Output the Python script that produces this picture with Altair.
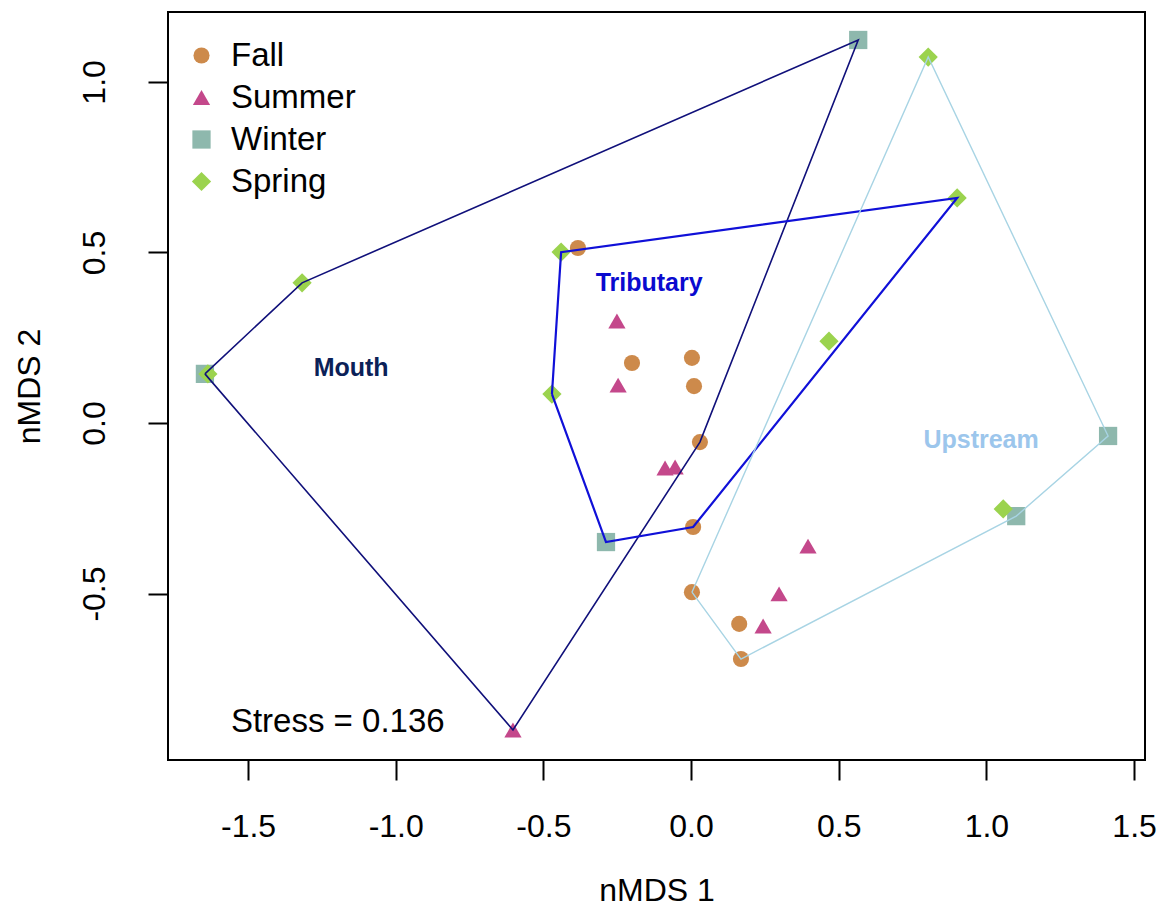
import altair as alt
import pandas as pd

# ---- data ----
seasons = ["Fall", "Summer", "Winter", "Spring"]
season_colors = ["#CD8A4B", "#C4488B", "#8EB8AD", "#9BD34E"]
season_shapes = ["circle", "triangle-up", "square", "diamond"]
season_sizes = [260, 370, 215, 340]

fall_x = [-0.383, -0.200, 0.003, 0.010, 0.030, 0.007, 0.003, 0.163, 0.169]
fall_y = [0.513, 0.176, 0.191, 0.108, -0.056, -0.305, -0.496, -0.589, -0.692]
fall_site = ["Mouth", "Tributary", "Tributary", "Tributary", "Mouth",
             "Tributary", "Upstream", "Upstream", "Upstream"]

summer_x = [-0.251, -0.247, -0.088, -0.054, 0.396, 0.298, 0.244, -0.603]
summer_y = [0.299, 0.111, -0.132, -0.129, -0.361, -0.501, -0.595, -0.900]
summer_site = ["Tributary", "Tributary", "Tributary", "Tributary",
               "Upstream", "Upstream", "Upstream", "Mouth"]

winter_x = [0.566, -1.646, -0.288, 1.412, 1.101]
winter_y = [1.123, 0.144, -0.349, -0.038, -0.273]
winter_site = ["Mouth", "Mouth", "Tributary", "Upstream", "Upstream"]

spring_x = [0.803, 0.901, -1.317, -1.636, -0.440, -0.471, 0.467, 1.057]
spring_y = [1.073, 0.660, 0.411, 0.144, 0.501, 0.085, 0.240, -0.252]
spring_site = ["Upstream", "Tributary", "Mouth", "Mouth", "Tributary",
               "Tributary", "Upstream", "Upstream"]

sites = ["Mouth", "Tributary", "Upstream"]
hull_colors = ["#10107A", "#1010D8", "#A8D4E4"]
hull_widths = [1.6, 2.2, 1.4]
label_colors = ["#0B2158", "#0A0ACF", "#9CC6EC"]
label_x = [-1.151, -0.142, 0.982]
label_y = [0.161, 0.411, -0.050]

stress_text = ["Stress = 0.136"]
stress_x = [-1.558]
stress_y = [-0.877]

x_ticks = [-1.5, -1.0, -0.5, 0.0, 0.5, 1.0, 1.5]
y_ticks = [-0.5, 0.0, 0.5, 1.0]
x_domain = [-1.771, 1.537]
y_domain = [-0.988, 1.205]

# ---- tables ----
rows = []
for s, xs_, ys_, ss in [("Fall", fall_x, fall_y, fall_site),
                        ("Summer", summer_x, summer_y, summer_site),
                        ("Winter", winter_x, winter_y, winter_site),
                        ("Spring", spring_x, spring_y, spring_site)]:
    for x, y, site in zip(xs_, ys_, ss):
        rows.append({"season": s, "x": x, "y": y, "site": site})
pts = pd.DataFrame(rows)


def convex_hull(p):
    p = sorted(set(p))
    if len(p) <= 2:
        return p

    def cross(o, a, b):
        return (a[0] - o[0]) * (b[1] - o[1]) - (a[1] - o[1]) * (b[0] - o[0])
    lower, upper = [], []
    for q in p:
        while len(lower) >= 2 and cross(lower[-2], lower[-1], q) <= 0:
            lower.pop()
        lower.append(q)
    for q in reversed(p):
        while len(upper) >= 2 and cross(upper[-2], upper[-1], q) <= 0:
            upper.pop()
        upper.append(q)
    return lower[:-1] + upper[:-1]


hull_rows = []
for site in sites:
    sub = pts[pts.site == site]
    h = convex_hull(list(zip(sub.x, sub.y)))
    h = h + [h[0]]
    for i, (x, y) in enumerate(h):
        hull_rows.append({"site": site, "x": x, "y": y, "ord": i})
hulls = pd.DataFrame(hull_rows)

FONT = "Liberation Sans"
LBL = "datum.value < 0 ? '-' + format(-datum.value, '.1f') : format(datum.value, '.1f')"

xs = alt.Scale(domain=x_domain, nice=False, zero=False)
ys = alt.Scale(domain=y_domain, nice=False, zero=False)

x_axis = alt.Axis(values=x_ticks, title="nMDS 1", grid=False, domain=False,
                  tickSize=20, tickWidth=2, tickColor="black",
                  labelFontSize=32, labelFont=FONT, labelColor="black",
                  labelPadding=31, labelExpr=LBL,
                  titleFontSize=32, titleFont=FONT, titleFontWeight="normal",
                  titleColor="black", titlePadding=33)
y_axis = alt.Axis(values=y_ticks, title="nMDS 2", grid=False, domain=False,
                  tickSize=20, tickWidth=2, tickColor="black",
                  labelFontSize=32, labelFont=FONT, labelColor="black",
                  labelAngle=270, labelAlign="center", labelBaseline="bottom",
                  labelPadding=37, labelExpr=LBL,
                  titleFontSize=32, titleFont=FONT, titleFontWeight="normal",
                  titleColor="black", titlePadding=32)

leg = alt.Legend(title=None, orient="none", legendX=15, legendY=25, padding=2,
                 labelFont=FONT, labelFontSize=33, labelColor="black",
                 symbolSize=250, symbolStrokeWidth=0, rowPadding=8,
                 labelOffset=13)

points = alt.Chart(pts).mark_point(filled=True, opacity=1, strokeWidth=0).encode(
    x=alt.X("x:Q", scale=xs, axis=x_axis),
    y=alt.Y("y:Q", scale=ys, axis=y_axis),
    color=alt.Color("season:N", scale=alt.Scale(domain=seasons, range=season_colors),
                    legend=leg),
    shape=alt.Shape("season:N", scale=alt.Scale(domain=seasons, range=season_shapes),
                    legend=leg),
    size=alt.Size("season:N", scale=alt.Scale(domain=seasons, range=season_sizes),
                  legend=None),
)

layers = [points]
for site, col, w in zip(sites, hull_colors, hull_widths):
    layers.append(
        alt.Chart(hulls[hulls.site == site]).mark_line(color=col, strokeWidth=w).encode(
            x=alt.X("x:Q", scale=xs), y=alt.Y("y:Q", scale=ys), order="ord:Q"
        )
    )

for site, col, lx, ly in zip(sites, label_colors, label_x, label_y):
    layers.append(
        alt.Chart(pd.DataFrame({"x": [lx], "y": [ly], "t": [site]})).mark_text(
            font=FONT, fontSize=25, fontWeight="bold",
            color=col, align="center", baseline="middle"
        ).encode(x=alt.X("x:Q", scale=xs), y=alt.Y("y:Q", scale=ys), text="t:N")
    )

layers.append(
    alt.Chart(pd.DataFrame({"x": stress_x, "y": stress_y, "t": stress_text})).mark_text(
        font=FONT, fontSize=33, color="black", align="left", baseline="middle"
    ).encode(x=alt.X("x:Q", scale=xs), y=alt.Y("y:Q", scale=ys), text="t:N")
)

chart = alt.layer(*layers).properties(
    width=977, height=748,
    background="white",
    autosize=alt.AutoSizeParams(type="none"),
    padding={"left": 160, "top": 4, "right": 12, "bottom": 156},
).configure_view(
    stroke="black", strokeWidth=2
)

chart.save("out.html", embed_options={"renderer": "svg", "actions": False})
